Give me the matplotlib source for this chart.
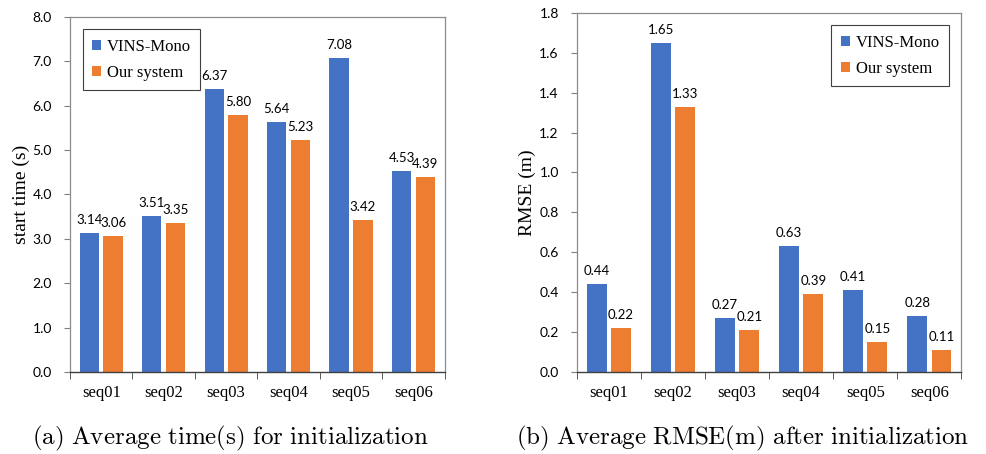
import numpy as np
import matplotlib
matplotlib.use("Agg")
import matplotlib.pyplot as plt
from matplotlib.ticker import FixedLocator, NullFormatter

plt.rcParams['mathtext.fontset'] = 'cm'

seqs = ['seq01', 'seq02', 'seq03', 'seq04', 'seq05', 'seq06']
time_vins = [3.14, 3.51, 6.37, 5.64, 7.08, 4.53]
time_ours = [3.06, 3.35, 5.80, 5.23, 3.42, 4.39]
rmse_vins = [0.44, 1.65, 0.27, 0.63, 0.41, 0.28]
rmse_ours = [0.22, 1.33, 0.21, 0.39, 0.15, 0.11]

BLUE = '#4472C4'
ORANGE = '#ED7D31'
SANS = 'Lato'
SERIF = 'Liberation Serif'


def draw(ax, vins, ours, ymax, ystep, ylabel, legend_loc):
    x = np.arange(len(seqs))
    w = 0.31
    b1 = ax.bar(x - 0.19, vins, w, color=BLUE, label='VINS-Mono')
    b2 = ax.bar(x + 0.19, ours, w, color=ORANGE, label='Our system')
    for b in (b1, b2):
        ax.bar_label(b, fmt='%.2f', padding=5, fontsize=9.5, fontfamily=SANS)

    ax.set_xlim(-0.5, len(seqs) - 0.5)
    ax.set_ylim(0, ymax)
    ticks = np.arange(0, ymax + ystep / 2, ystep)
    ax.set_yticks(ticks)
    ax.set_yticklabels(['%.1f' % v for v in ticks], fontfamily=SANS, fontsize=10)
    ax.set_xticks(x)
    ax.set_xticklabels(seqs, fontfamily=SERIF, fontsize=12)
    ax.xaxis.set_minor_locator(FixedLocator(np.arange(-0.5, len(seqs), 1.0)))
    ax.xaxis.set_minor_formatter(NullFormatter())
    ax.tick_params(axis='x', which='major', length=0, pad=9)
    ax.tick_params(axis='x', which='minor', length=5, color='#404040')
    ax.tick_params(axis='y', length=4, color='#808080', pad=9)

    for s in ('top', 'right', 'left'):
        ax.spines[s].set_color('#8c8c8c')
        ax.spines[s].set_linewidth(0.9)
    ax.spines['bottom'].set_color('#404040')
    ax.spines['bottom'].set_linewidth(1.0)

    ax.set_ylabel(ylabel, fontfamily=SERIF, fontsize=14, labelpad=2)

    leg = ax.legend(loc=legend_loc, prop={'family': SERIF, 'size': 12},
                    fancybox=False, edgecolor='#404040', framealpha=1,
                    handlelength=0.55, handleheight=0.55, handletextpad=0.35,
                    labelspacing=0.6, borderpad=0.55, borderaxespad=0.75)
    leg.get_frame().set_linewidth(0.8)


fig = plt.figure(figsize=(9.86, 4.54), dpi=100)
ax1 = fig.add_axes([0.071, 0.1806, 0.380, 0.782])
ax2 = fig.add_axes([0.585, 0.1806, 0.390, 0.791])

draw(ax1, time_vins, time_ours, 8.0, 1.0, 'start time (s)', 'upper left')
draw(ax2, rmse_vins, rmse_ours, 1.8, 0.2, 'RMSE (m)', 'upper right')

fig.text(0.234, 0.022, r'$\mathrm{(a)\ Average\ time(s)\ for\ initialization}$',
         ha='center', fontsize=18)
fig.text(0.753, 0.022, r'$\mathrm{(b)\ Average\ RMSE(m)\ after\ initialization}$',
         ha='center', fontsize=18)

fig.savefig('out.png', dpi=100)
